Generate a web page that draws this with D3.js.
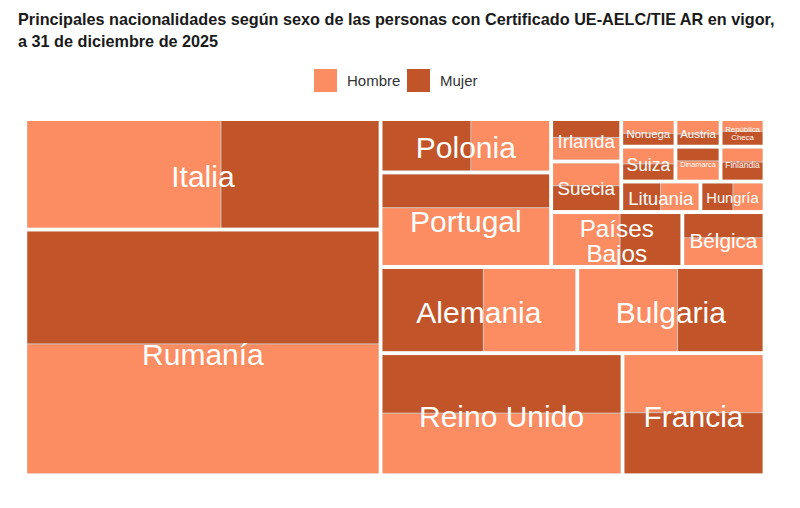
<!DOCTYPE html>
<html>
<head>
<meta charset="utf-8">
<script src="https://cdn.jsdelivr.net/npm/d3@7"></script>
<style>
  html, body { margin: 0; padding: 0; background: #ffffff; }
  svg { display: block; font-family: "Liberation Sans", Arial, Helvetica, sans-serif; }
</style>
</head>
<body>
<svg id="chart" width="800" height="508"></svg>
<script>
// ---------- DATA ----------
const titleLines = [
  "Principales nacionalidades según sexo de las personas con Certificado UE-AELC/TIE AR en vigor,",
  "a 31 de diciembre de 2025"
];
const sexes = ["Hombre", "Mujer"];
const countries = ["Rumanía", "Italia", "Reino Unido", "Francia", "Alemania", "Bulgaria", "Portugal",
  "Polonia", "Países Bajos", "Bélgica", "Suecia", "Irlanda", "Lituania", "Hungría", "Suiza",
  "Dinamarca", "Finlandia", "Noruega", "Austria", "República Checa"];
const hombres = [588000, 272400, 189400, 106300, 101800, 108900, 128200,
  54000, 47700, 30300, 21300, 21400, 15300, 12100, 11700,
  11900, 8400, 9800, 8600, 6700];
const mujeres = [511000, 221900, 182700, 112000, 111600, 94200, 74700,
  60800, 43000, 26500, 23300, 16100, 15100, 12500, 12100,
  7900, 10900, 9100, 7100, 8600];

// ---------- LAYOUT SPEC (grouping & tiling direction, no coordinates) ----------
const groups = {dir: "dice", children: [
  {dir: "slice", children: ["Italia", "Rumanía"]},
  {dir: "slice", children: [
    {dir: "dice", children: [
      {dir: "slice", children: ["Polonia", "Portugal"]},
      {dir: "slice", children: [
        {dir: "dice", children: [
          {dir: "slice", children: ["Irlanda", "Suecia"]},
          {dir: "slice", children: [
            {dir: "dice", children: ["Noruega", "Austria", "República Checa"]},
            {dir: "dice", children: ["Suiza", "Dinamarca", "Finlandia"]},
            {dir: "dice", children: ["Lituania", "Hungría"]}
          ]}
        ]},
        {dir: "dice", children: ["Países Bajos", "Bélgica"]}
      ]}
    ]},
    {dir: "dice", children: ["Alemania", "Bulgaria"]},
    {dir: "dice", children: ["Reino Unido", "Francia"]}
  ]}
]};
// split direction of each country and which sex comes first
const splits = {
  "Italia": ["dice", "HM"], "Rumanía": ["slice", "MH"], "Polonia": ["dice", "MH"],
  "Portugal": ["slice", "MH"], "Alemania": ["dice", "MH"], "Bulgaria": ["dice", "HM"],
  "Reino Unido": ["slice", "MH"], "Francia": ["slice", "HM"], "Irlanda": ["slice", "MH"],
  "Suecia": ["slice", "HM"], "Noruega": ["slice", "HM"], "Austria": ["slice", "HM"],
  "República Checa": ["slice", "HM"], "Suiza": ["slice", "HM"], "Dinamarca": ["slice", "MH"],
  "Finlandia": ["slice", "HM"], "Lituania": ["dice", "MH"], "Hungría": ["dice", "MH"],
  "Países Bajos": ["dice", "HM"], "Bélgica": ["slice", "MH"]
};
const colors = {Hombre: "#FC8C61", Mujer: "#C25429"};

// ---------- BUILD HIERARCHY ----------
function build(node) {
  if (typeof node === "string") {
    const i = countries.indexOf(node);
    const sp = splits[node];
    const kids = sp[1].split("").map(k => k === "H"
      ? {sex: "Hombre", value: hombres[i]}
      : {sex: "Mujer", value: mujeres[i]});
    return {type: "country", name: node, dir: sp[0], children: kids};
  }
  return {type: "group", dir: node.dir, children: node.children.map(build)};
}
const root = d3.hierarchy(build(groups)).sum(d => d.value || 0);

const X0 = 27.3, Y0 = 121, W = 735.2, H = 352.3;
d3.treemap()
  .size([W, H])
  .paddingInner(n => n.data.type === "country" ? 1 : 4)
  .tile((node, x0, y0, x1, y1) =>
    (node.data.dir === "slice" ? d3.treemapSlice : d3.treemapDice)(node, x0, y0, x1, y1))
  (root);

const svg = d3.select("#chart");

// ---------- TITLE ----------
const title = svg.append("g");
const t1 = title.append("text").attr("x", 18).attr("y", 25)
  .attr("font-weight", "bold").attr("font-size", 14).attr("fill", "#1a1a1a").text(titleLines[0]);
const len = t1.node().getComputedTextLength();
const tfs = 14 * 757 / len;
t1.attr("font-size", tfs);
title.append("text").attr("x", 18).attr("y", 47)
  .attr("font-weight", "bold").attr("font-size", tfs).attr("fill", "#1a1a1a").text(titleLines[1]);

// ---------- LEGEND ----------
const legX = d3.scaleOrdinal().domain(sexes).range([314, 407]);
const leg = svg.append("g").selectAll("g").data(sexes).join("g")
  .attr("transform", d => `translate(${legX(d)},69)`);
leg.append("rect").attr("width", 23).attr("height", 23).attr("fill", d => colors[d]);
leg.append("text").attr("x", 33).attr("y", 17).attr("font-size", 15).attr("fill", "#333")
  .text(d => d);

// ---------- TREEMAP ----------
const g = svg.append("g").attr("transform", `translate(${X0},${Y0})`);
const countryNodes = root.descendants().filter(d => d.data.type === "country");

g.selectAll("rect.country").data(countryNodes).join("rect")
  .attr("class", "country")
  .attr("x", d => d.x0).attr("y", d => d.y0)
  .attr("width", d => d.x1 - d.x0).attr("height", d => d.y1 - d.y0)
  .attr("fill", "#d2c4bc");

g.selectAll("rect.leaf").data(root.leaves()).join("rect")
  .attr("class", "leaf")
  .attr("x", d => d.x0).attr("y", d => d.y0)
  .attr("width", d => Math.max(0, d.x1 - d.x0)).attr("height", d => Math.max(0, d.y1 - d.y0))
  .attr("fill", d => colors[d.data.sex]);

// labels
const meas = svg.append("text").attr("font-size", 100).attr("visibility", "hidden");
function em(s) { meas.text(s); return meas.node().getComputedTextLength() / 100; }

const labels = g.append("g");
countryNodes.forEach(d => {
  const w = d.x1 - d.x0, h = d.y1 - d.y0;
  const cx = (d.x0 + d.x1) / 2, cy = (d.y0 + d.y1) / 2;
  const name = d.data.name;
  let lines = [name];
  let f = Math.min(30, 0.87 * w / em(name), h * 0.8);
  const sp = name.lastIndexOf(" ");
  if (sp > 0) {
    const two = [name.slice(0, sp), name.slice(sp + 1)];
    const f2 = Math.min(30, 0.87 * w / Math.max(em(two[0]), em(two[1])), h / 2.1);
    if (f2 > f + 0.5) { lines = two; f = f2; }
  }
  const lh = lines.length > 1 ? f * 1.05 : f;
  const txt = labels.append("text")
    .attr("text-anchor", "middle").attr("fill", "#ffffff").attr("font-size", f);
  lines.forEach((ln, i) => {
    txt.append("tspan").attr("x", cx)
      .attr("y", cy - (lines.length - 1) * lh / 2 + i * lh + 0.42 * f)
      .text(ln);
  });
});
meas.remove();
</script>
</body>
</html>
